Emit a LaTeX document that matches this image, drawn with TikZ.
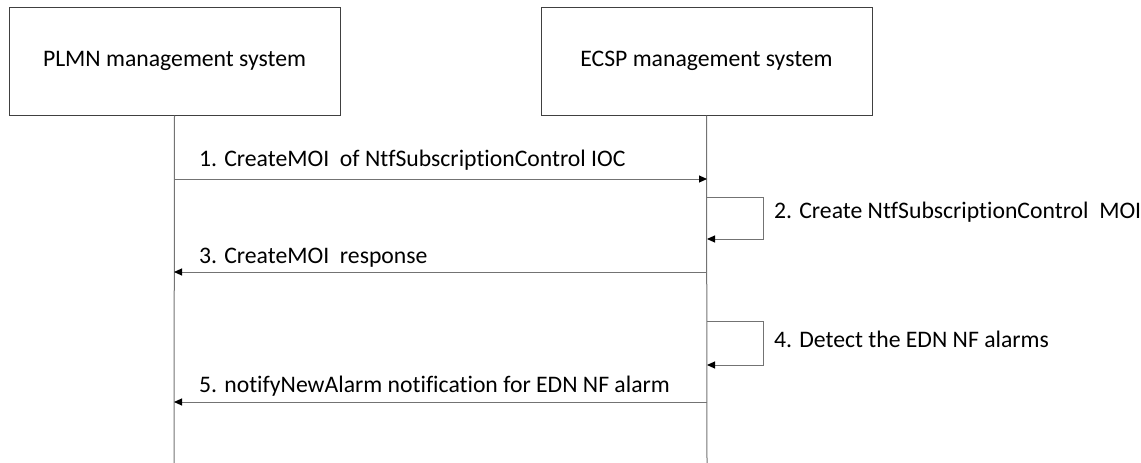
\documentclass[tikz,border=0pt]{standalone}
\usepackage{fontspec}
\setmainfont{Carlito}[Ligatures={NoCommon}]
\usetikzlibrary{arrows.meta}
\begin{document}
\begin{tikzpicture}[x=1pt,y=-1pt,
  actor/.style={draw=black!75,line width=1pt,minimum width=331pt,minimum height=108pt,font=\fontsize{23.7}{28}\selectfont,inner sep=0pt},
  life/.style={draw=black!55,line width=1pt},
  msg/.style={draw=black!55,line width=1pt,-{Triangle[length=8pt,width=7pt,fill=black,color=black]}},
  lbl/.style={inner sep=0pt,anchor=base west,font=\fontsize{23.7}{28}\selectfont}]
\useasboundingbox (0,0) rectangle (1141,463);
\node[actor] (plmn) at (174.5,61) {PLMN management system};
\node[actor] (ecsp) at (706.5,61) {ECSP management system};
\coordinate (pe) at (174,463);
\coordinate (ee) at (707,463);
\draw[life] (plmn.south) -- (pe);
\draw[life] (ecsp.south) -- (ee);
% 1
\coordinate (a1) at (174,179);
\coordinate (b1) at (707,179);
\draw[msg] (a1) -- (b1);
\node[lbl] (l1) at (199,166) {1. CreateMOI\ \ of NtfSubscriptionControl\ IOC};
% 2
\coordinate (s2) at (707,197);
\coordinate (s2a) at (763,197);
\coordinate (s2b) at (763,239);
\coordinate (e2) at (707,239);
\draw[msg] (s2) -- (s2a) -- (s2b) -- (e2);
\node[lbl] (l2) at (774,218) {2. Create NtfSubscriptionControl\ \ MOI};
% 3
\coordinate (a3) at (707,272);
\coordinate (b3) at (174,272);
\draw[msg] (a3) -- (b3);
\node[lbl] (l3) at (199,263) {3. CreateMOI\ \ response};
% 4
\coordinate (s4) at (707,321);
\coordinate (s4a) at (763,321);
\coordinate (s4b) at (763,365);
\coordinate (e4) at (707,365);
\draw[msg] (s4) -- (s4a) -- (s4b) -- (e4);
\node[lbl] (l4) at (774,347) {4. Detect the EDN NF alarms};
% 5
\coordinate (a5) at (707,402);
\coordinate (b5) at (174,402);
\draw[msg] (a5) -- (b5);
\node[lbl] (l5) at (199,392) {5. notifyNewAlarm notification for EDN NF alarm};
\end{tikzpicture}
\end{document}
